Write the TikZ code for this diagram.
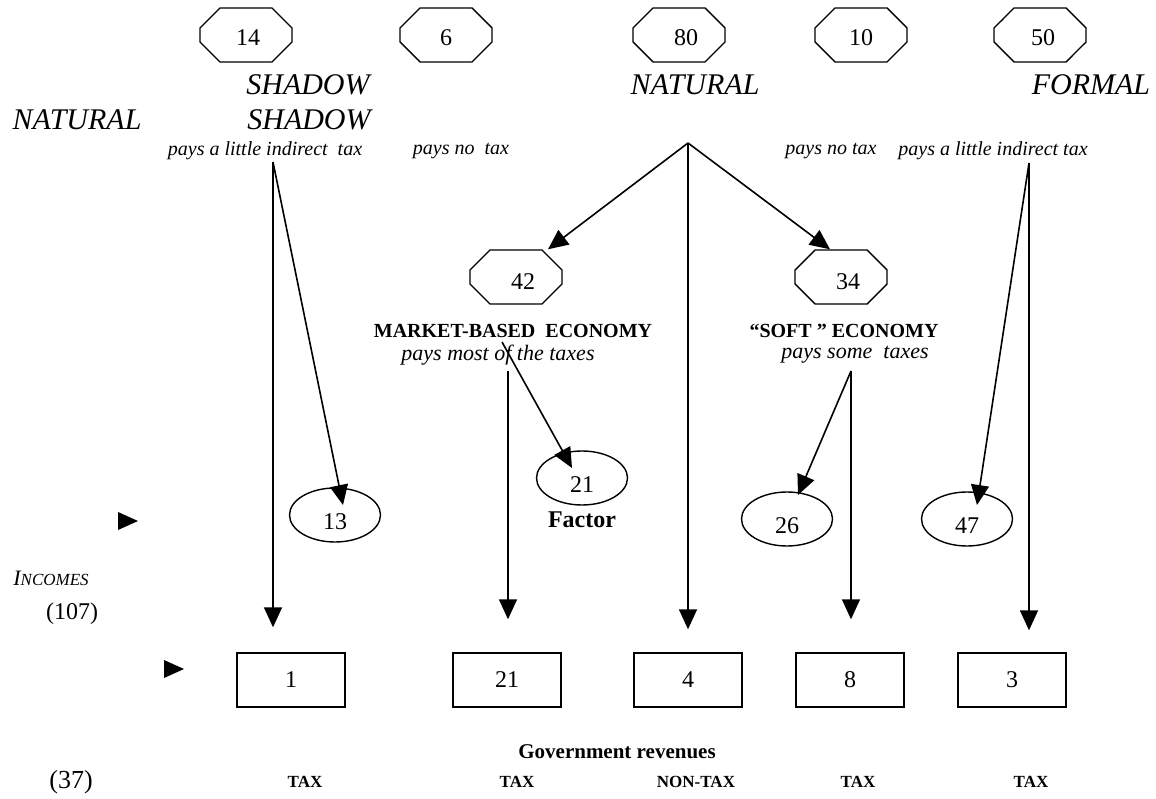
\documentclass[tikz,border=0pt]{standalone}
\usepackage{fontspec}
\setmainfont{Liberation Serif}
\usetikzlibrary{shapes.misc,shapes.geometric,arrows.meta,calc}
\newcommand\octnum[3]{\raisebox{-#2}[16pt][0pt]{\makebox[24pt]{\hspace*{#1}#3}}}
\begin{document}
\begin{tikzpicture}[x=1pt,y=-1pt,
  every node/.style={inner sep=0pt},
  numfont/.style={font=\fontsize{24}{24}\selectfont},
  oct/.style={draw, line width=1.4pt, chamfered rectangle, chamfered rectangle xsep=15pt, chamfered rectangle ysep=15pt, minimum width=92pt, minimum height=54pt, numfont},
  ell/.style={draw, line width=1.4pt, ellipse, minimum width=91pt, minimum height=54pt, numfont, text height=28pt, text depth=0pt},
  box/.style={draw, line width=1.4pt, rectangle, minimum width=108pt, minimum height=54pt, numfont},
  big/.style={font=\fontsize{30}{30}\selectfont\itshape},
  small/.style={font=\fontsize{20}{20}\selectfont\itshape},
  mid/.style={font=\fontsize{22}{22}\selectfont\itshape},
  bold/.style={font=\fontsize{20}{20}\selectfont\bfseries},
  lbl/.style={font=\fontsize{17}{17}\selectfont\bfseries},
  arr/.style={line width=1.6pt, -{Triangle[length=20pt,width=18pt]}},
]
\useasboundingbox[fill=white] (0,0) rectangle (1156,799);

% top octagons
\node[oct] (o14) at (246,35) {\octnum{4pt}{3pt}{14}};
\node[oct] (o6) at (446,35) {\octnum{0pt}{3pt}{6}};
\node[oct] (o80) at (679,35) {\octnum{14pt}{3pt}{80}};
\node[oct] (o10) at (861,35) {\octnum{0pt}{3pt}{10}};
\node[oct] (o50) at (1040,35) {\octnum{6pt}{3pt}{50}};

% top labels
\node[big] (tshadow1) at (308,85) {SHADOW};
\node[big] (tnatural1) at (695,85) {NATURAL};
\node[big] (tformal) at (1091,85) {FORMAL};
\node[big] (tnatural2) at (77,120) {NATURAL};
\node[big] (tshadow2) at (309,120) {SHADOW};
\node[small] (p1) at (265,151) {pays a little indirect\ \ tax};
\node[small] (p2) at (461,151) {pays no\ \ tax};
\node[small] (p3) at (831,151) {pays no tax};
\node[small] (p4) at (993,151) {pays a little indirect tax};

% middle octagons and labels
\node[oct] (o42) at (516,277) {\octnum{14pt}{5pt}{42}};
\node[oct] (o34) at (841,277) {\octnum{14pt}{5pt}{34}};
\node[bold] (mkt) at (513,331) {MARKET-BASED\ \ ECONOMY};
\node[mid] (pm) at (498,355) {pays most of the taxes};
\node[bold] (soft) at (844,331) {“SOFT ” ECONOMY};
\node[mid] (ps) at (855,355) {pays some\ \ taxes};

% ellipses
\node[ell] (e13) at (335,515) {13};
\node[ell] (e21) at (582,478) {21};
\node[font=\fontsize{24}{24}\selectfont\bfseries] (factor) at (582,520) {Factor};
\node[ell] (e26) at (787,519) {26};
\node[ell] (e47) at (967,519) {47};

% boxes
\node[box] (b1) at (291,680) {1};
\node[box] (b21) at (507,680) {21};
\node[box] (b4) at (688,680) {4};
\node[box] (b8) at (850,680) {8};
\node[box] (b3) at (1012,680) {3};

% left labels and markers
\node[font=\fontsize{22}{22}\selectfont\itshape] (inc) at (51,578) {I\fontsize{17}{17}\selectfont NCOMES};
\node[font=\fontsize{24}{24}\selectfont] (n107) at (72,614) {(107)};
\fill (118,512) -- (138,521) -- (118,530) -- cycle;
\fill (164,660) -- (184,669) -- (164,678) -- cycle;

% bottom labels
\node[font=\fontsize{21}{21}\selectfont\bfseries] (gov) at (617,752) {Government revenues};
\node[font=\fontsize{26}{26}\selectfont] (n37) at (71,782) {(37)};
\node[lbl] (t1) at (305,782) {TAX};
\node[lbl] (t2) at (517,782) {TAX};
\node[lbl] (t3) at (696,782) {NON-TAX};
\node[lbl] (t4) at (858,782) {TAX};
\node[lbl] (t5) at (1031,782) {TAX};

% connector origins
\coordinate (s1) at (273,162);
\coordinate (apex) at (688,143);
\coordinate (mk) at (502,342);
\coordinate (mkv) at (508,371);
\coordinate (sf) at (851,371);
\coordinate (s5) at (1029,163);

% connectors
\draw[arr, shorten >=25pt] (s1) -- (s1 |- b1.north);
\draw[arr] (s1) -- ($(e13.center)+(8,-10)$);
\draw[arr] (apex) -- ($(o42.north)+(32,0)$);
\draw[arr, shorten >=23pt] (apex) -- (apex |- b4.north);
\draw[arr] (apex) -- ($(o34.north)+(-11,0)$);
\draw[arr] (mk) -- ($(e21.center)+(-10,-10)$);
\draw[arr, shorten >=33pt] (mkv) -- (mkv |- b21.north);
\draw[arr] (sf) -- ($(e26.center)+(11,-24)$);
\draw[arr, shorten >=33pt] (sf) -- (sf |- b8.north);
\draw[arr] (s5) -- ($(e47.center)+(10,-14)$);
\draw[arr, shorten >=22pt] (s5) -- (s5 |- b3.north);
\end{tikzpicture}
\end{document}
